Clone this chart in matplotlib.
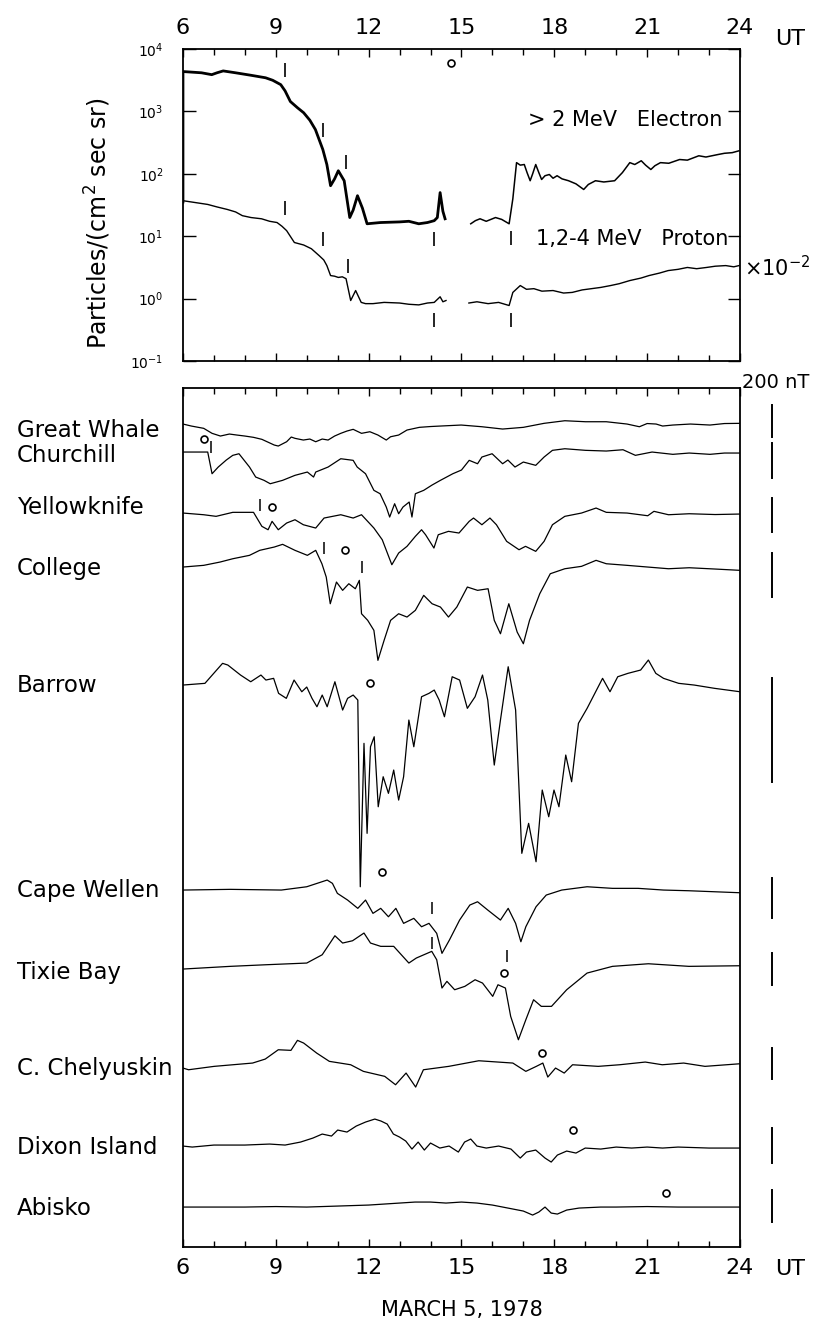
import matplotlib.pyplot as plt
from matplotlib.transforms import blended_transform_factory

plt.rcParams['font.family'] = ['DejaVu Sans']

# ---- top panel: particle fluxes, log10(particles / (cm2 sec sr)) ----
elec_hr_a = [6.0, 6.0, 6.3, 6.6, 6.93, 7.1, 7.3, 7.7, 8.2, 8.67, 8.9, 9.16, 9.3, 9.47, 9.7, 9.9,
             10.1, 10.28, 10.52, 10.65, 10.77, 10.9, 11.02, 11.21, 11.39, 11.5, 11.64, 11.8,
             11.95, 12.38, 13.0, 13.3, 13.62, 13.9, 14.12, 14.22, 14.31, 14.4, 14.47]
elec_a = [1.55, 3.64, 3.63, 3.62, 3.59, 3.62, 3.65, 3.62, 3.58, 3.54, 3.50, 3.43, 3.33, 3.16, 3.06, 2.98,
          2.86, 2.71, 2.39, 2.15, 1.81, 1.92, 2.05, 1.89, 1.30, 1.42, 1.65, 1.45,
          1.20, 1.22, 1.23, 1.24, 1.20, 1.22, 1.25, 1.30, 1.70, 1.40, 1.28]
elec_hr_b = [15.3, 15.45, 15.6, 15.8, 16.1, 16.3, 16.54, 16.66, 16.78, 16.9, 17.03, 17.12, 17.22, 17.3, 17.4,
             17.5, 17.59, 17.7, 17.84, 17.96, 18.09, 18.25, 18.46, 18.7, 18.95, 19.1, 19.33, 19.6, 19.95,
             20.2, 20.44, 20.6, 20.81, 20.95, 21.12, 21.25, 21.43, 21.7, 22.05, 22.3, 22.67, 22.9,
             23.29, 23.5, 23.75, 23.97]
elec_b = [1.20, 1.25, 1.28, 1.24, 1.30, 1.27, 1.20, 1.60, 2.18, 2.14, 2.15, 2.02, 1.89, 2.00, 2.15,
          2.02, 1.91, 1.97, 1.99, 1.93, 1.97, 1.92, 1.89, 1.84, 1.75, 1.83, 1.89, 1.87, 1.89,
          2.02, 2.18, 2.15, 2.21, 2.14, 2.07, 2.13, 2.18, 2.17, 2.23, 2.22, 2.29, 2.27,
          2.31, 2.33, 2.34, 2.37]

prot_hr_a = [6.0, 6.4, 6.8, 7.1, 7.43, 7.7, 7.92, 8.2, 8.54, 8.8, 9.04, 9.2, 9.35, 9.6, 9.9, 10.15,
             10.4, 10.55, 10.65, 10.77, 10.9, 11.02, 11.15, 11.27, 11.42, 11.58, 11.76, 11.9, 12.14,
             12.5, 13.0, 13.3, 13.62, 13.9, 14.12, 14.31, 14.4, 14.5]
prot_a = [1.57, 1.54, 1.51, 1.47, 1.43, 1.39, 1.33, 1.30, 1.28, 1.24, 1.22, 1.16, 1.09, 0.90, 0.86, 0.80,
          0.69, 0.62, 0.53, 0.37, 0.36, 0.34, 0.35, 0.32, -0.03, 0.13, -0.06, -0.08, -0.08,
          -0.06, -0.07, -0.09, -0.10, -0.07, -0.06, 0.03, -0.05, -0.03]
prot_hr_b = [15.24, 15.5, 15.86, 16.2, 16.54, 16.66, 16.9, 17.1, 17.34, 17.6, 17.96, 18.3, 18.58, 18.9,
             19.2, 19.5, 19.82, 20.1, 20.44, 20.8, 21.06, 21.4, 21.68, 22.0, 22.3, 22.6, 22.92, 23.2,
             23.54, 23.8, 23.97]
prot_b = [-0.07, -0.05, -0.08, -0.06, -0.11, 0.10, 0.21, 0.15, 0.16, 0.12, 0.13, 0.09, 0.10, 0.14,
          0.16, 0.18, 0.21, 0.24, 0.29, 0.33, 0.37, 0.41, 0.45, 0.47, 0.50, 0.48, 0.50, 0.52,
          0.53, 0.51, 0.53]

# small vertical marks and circle in top panel
top_mark_hr = [9.29, 10.52, 11.27, 9.31, 10.52, 14.1, 16.6, 11.33, 14.1, 16.6]
top_mark_log = [3.67, 2.71, 2.19, 1.46, 0.96, 0.96, 0.97, 0.53, -0.35, -0.35]
top_circle = (14.65, 3.78)

# ---- bottom panel: magnetograms (deviation from baseline, panel units; up = positive) ----
stations = ['Great Whale', 'Churchill', 'Yellowknife', 'College', 'Barrow',
            'Cape Wellen', 'Tixie Bay', 'C. Chelyuskin', 'Dixon Island', 'Abisko']
baseline = [823, 795, 734, 680, 562, 357, 278, 179, 101, 40]
label_y = [817, 792, 740, 679, 562, 357, 275, 179, 100, 39]

gw_hr = [6.0, 6.27, 6.67, 6.94, 7.21, 7.5, 7.74, 8.0, 8.28, 8.55, 8.95, 9.08, 9.35, 9.5, 9.62, 9.89,
         10.1, 10.29, 10.5, 10.69, 10.9, 11.1, 11.3, 11.5, 11.77, 12.04, 12.3, 12.57, 12.71, 12.97,
         13.24, 13.64, 14.0, 14.32, 14.99, 15.66, 16.33, 17.0, 17.67, 18.34, 19.01, 19.68, 20.35,
         20.75, 21.0, 21.29, 21.5, 21.83, 22.4, 23.03, 23.5, 24.0]
gw = [0, -2, -4.3, -9.3, -12, -10, -11, -12, -13.3, -15.3, -21, -22, -17.7, -13, -14.3, -16,
      -15, -17.7, -15, -16, -12, -9.3, -7, -5.3, -9.3, -7.7, -11, -16, -12.7, -11,
      -6, -3.3, -2.5, -2, -1, -2.7, -5, -3.3, 0.7, 3.3, 2.3, 2.3, 0,
      -2.7, 0.5, 0, -2, -1, 0, -1, 0.5, 0.7]

ch_hr = [6.0, 6.8, 6.94, 7.14, 7.4, 7.61, 7.81, 8.15, 8.35, 8.62, 8.82, 9.22, 9.62, 10.02, 10.22,
         10.29, 10.69, 11.1, 11.5, 11.63, 11.9, 12.17, 12.37, 12.57, 12.68, 12.84, 12.97, 13.11,
         13.31, 13.4, 13.51, 13.78, 14.05, 14.32, 14.72, 15.0, 15.25, 15.52, 15.66, 15.99, 16.33,
         16.5, 16.73, 17.0, 17.4, 17.67, 17.94, 18.34, 19.01, 19.68, 20.22, 20.62, 21.16, 21.83,
         22.36, 23.03, 23.5, 24.0]
ch = [0, 0, -21.7, -15, -8, -3.3, -1.7, -15, -25, -28.3, -31.7, -28.3, -23.3, -20, -25,
      -20, -15, -6.7, -8.3, -15, -21.7, -38.3, -41.7, -55, -65, -51.7, -61.7, -55,
      -50, -65, -41.7, -38.3, -33, -28.3, -21.7, -18, -8.3, -11.7, -5, -1.7, -11.7,
      -8, -15, -10, -13.3, -5, 1.7, 3.3, 1.7, 1, 2.3, -3.3, 0, -2.3,
      -1, -2.3, -1, -1]

yk_hr = [6.0, 6.67, 7.07, 7.61, 8.28, 8.55, 8.75, 8.88, 9.08, 9.35, 9.62, 9.89, 10.29, 10.56, 11.1,
         11.5, 11.77, 12.17, 12.44, 12.75, 12.97, 13.24, 13.51, 13.71, 13.84, 14.11, 14.25, 14.58,
         14.92, 15.25, 15.39, 15.66, 15.92, 16.13, 16.46, 16.86, 17.07, 17.4, 17.67, 17.94, 18.34,
         18.88, 19.35, 19.68, 20.35, 21.02, 21.22, 21.69, 22.36, 23.2, 24.0]
yk = [0, -1.7, -3.3, 0.7, 0.7, -13.3, -16.7, -8.3, -16.7, -10, -6.7, -11.7, -15, -5, -1.7,
      -5, -1.7, -15, -26.7, -51.7, -40, -33.3, -23.3, -16.7, -21.7, -35, -21.7, -18.3,
      -20, -8.3, -5, -11.7, -5, -11.7, -28.3, -36.7, -33.3, -38.3, -28.3, -11.7, -3.3,
      0, 5, 0.7, 0, -2.7, 1.7, -1.7, -0.7, -1.5, -1]

co_hr = [6.0, 6.67, 7.2, 7.61, 8.15, 8.48, 8.95, 9.22, 9.62, 10.02, 10.29, 10.49, 10.63, 10.76,
         10.96, 11.16, 11.36, 11.57, 11.7, 11.77, 11.97, 12.17, 12.3, 12.5, 12.71, 12.97, 13.24,
         13.51, 13.78, 14.05, 14.32, 14.58, 14.85, 15.19, 15.52, 15.86, 16.06, 16.26, 16.53, 16.8,
         17.0, 17.2, 17.53, 17.87, 18.34, 18.88, 19.35, 19.68, 20.35, 21.02, 21.69, 22.36, 23.2, 24.0]
co = [0, 1.7, 5, 8.3, 11.7, 16.7, 20, 22.7, 16.7, 11.7, 16.7, 3.3, -10, -36.7,
      -15, -23.3, -16.7, -21.7, -13.3, -46.7, -53.3, -63.3, -93.3, -73.3, -53.3, -46.7, -50,
      -43.3, -28.3, -36.7, -40, -50, -40, -20, -23.3, -21.7, -53.3, -66.7, -36.7, -65,
      -76.7, -53.3, -26.7, -6.7, -1.7, 0.7, 6.7, 3.3, 1.7, 0, -1.7, -0.7, -2, -3.3]

ba_hr = [6.0, 6.71, 7.04, 7.28, 7.45, 7.86, 8.19, 8.52, 8.68, 8.93, 9.09, 9.34, 9.59, 9.84, 10.0,
         10.17, 10.33, 10.5, 10.66, 10.91, 11.16, 11.32, 11.5, 11.65, 11.73, 11.85, 11.95, 12.06,
         12.18, 12.31, 12.47, 12.64, 12.81, 12.97, 13.13, 13.3, 13.46, 13.71, 13.95, 14.12, 14.28,
         14.45, 14.7, 14.94, 15.19, 15.44, 15.68, 15.85, 16.06, 16.26, 16.51, 16.75, 16.95, 17.17,
         17.41, 17.61, 17.82, 17.99, 18.15, 18.37, 18.56, 18.78, 19.06, 19.31, 19.56, 19.8, 20.05,
         20.38, 20.79, 21.04, 21.28, 21.53, 22.02, 22.52, 23.18, 24.0]
ba = [0, 1.7, 13.3, 21.7, 20, 10, 3.3, 10, 5, 6.7, -8.3, -13.3, 5, -6.7, -2,
      -13.3, -21.7, -10, -21.7, 3.3, -25, -13.3, -10, -15, -201.7, -58.3, -148.3, -61.7,
      -51.7, -121.7, -91.7, -108.3, -85, -115, -91.7, -35, -61.7, -11.7, -8.3, -5, -15,
      -31.7, 8.3, 5, -23.3, -11.7, 10, -15, -80, -35, 18.3, -25, -168.3, -138.3,
      -176.7, -105, -131.7, -105, -121.7, -70, -96.7, -38.3, -23.3, -8.3, 6.7, -6.7, 8.3,
      11.7, 15, 25, 11.7, 6.7, 1.7, 0, -3.3, -6.7]

cw_hr = [6.0, 7.53, 9.18, 10.0, 10.66, 10.83, 10.99, 11.32, 11.65, 11.9, 12.14, 12.39, 12.64, 12.88,
         13.13, 13.46, 13.71, 13.95, 14.2, 14.37, 14.61, 14.94, 15.27, 15.52, 15.85, 16.26, 16.51,
         16.75, 16.92, 17.08, 17.41, 17.74, 18.24, 19.06, 19.88, 20.71, 21.53, 22.35, 24.0]
cw = [0, 0.7, 0, 3.3, 10, 6.7, -3.3, -10, -18.3, -10, -23.3, -18.3, -26.7, -18.3,
      -33.3, -28.3, -36.7, -33.3, -43.3, -63.3, -50, -30, -15, -11.7, -20, -30, -18.3,
      -33.3, -51.7, -36.7, -16.7, -5, 0, 3.3, 1.7, 1.7, 0, -0.7, -2.7]

tx_hr = [6.0, 7.53, 8.68, 10.0, 10.5, 10.91, 11.16, 11.48, 11.85, 12.06, 12.39, 12.81, 13.3, 13.54,
         14.04, 14.2, 14.37, 14.53, 14.78, 15.11, 15.44, 15.68, 16.01, 16.18, 16.42, 16.59, 16.84,
         17.08, 17.33, 17.58, 17.91, 18.4, 19.06, 19.88, 21.04, 22.35, 24.0]
tx = [0, 2.7, 4.3, 6, 14.3, 33.3, 26, 28.3, 36, 26, 22.7, 22.7, 6, 11,
      17.7, 9.3, -19, -12.3, -20.7, -17.3, -10.7, -14, -27.3, -15.7, -19, -47.3, -70.7,
      -50.7, -30.7, -37.3, -37.3, -20.7, -4, 2.7, 5.3, 2.7, 3.3]

cc_hr = [6.0, 6.18, 7.01, 8.25, 8.66, 9.08, 9.49, 9.7, 9.9, 10.32, 10.73, 11.42, 11.83, 12.52, 12.87,
         13.21, 13.52, 13.77, 14.59, 15.56, 16.66, 17.08, 17.42, 17.63, 17.79, 18.04, 18.32, 18.59,
         19.42, 20.11, 20.94, 21.49, 22.18, 22.87, 24.0]
cc = [0, -1.7, 1.7, 5, 9, 18.3, 17.7, 27.7, 25, 15, 6.7, 3.3, -3.3, -8.3, -16.7,
      -5, -19, -1.7, 1.7, 7.3, 5, -3.3, 1.7, 5, -9, 0, -5, 3.3,
      1.7, 3.3, 6, 3.3, 5, 1.7, 4.3]

dx_hr = [6.0, 6.3, 7.0, 8.0, 8.8, 9.3, 9.8, 10.2, 10.5, 10.8, 11.0, 11.3, 11.6, 11.9, 12.2, 12.4,
         12.6, 12.8, 13.0, 13.2, 13.4, 13.6, 13.8, 14.0, 14.3, 14.6, 14.9, 15.1, 15.3, 15.5, 15.8,
         16.2, 16.6, 16.9, 17.1, 17.4, 17.7, 17.9, 18.1, 18.4, 18.7, 19.0, 19.5, 20.0, 20.5, 21.0,
         21.5, 22.0, 23.0, 24.0]
dx = [0, -1, 1, 1, 2, 1, 4, 8, 12, 10, 16, 14, 20, 24, 27, 25,
      22, 12, 9, 5, -3, 4, -4, 3, -2, 0, -6, 4, 7, 0, -2,
      0, -3, -12, -6, -4, -12, -16, -9, -5, -7, -2, -3, -1, -2, -1,
      -2, -1, -2, -2]

ab_hr = [6.0, 8.0, 9.0, 10.0, 11.0, 12.0, 12.5, 13.0, 13.5, 14.0, 14.5, 15.0, 15.5, 16.0, 16.5,
         17.0, 17.3, 17.5, 17.7, 17.9, 18.1, 18.4, 18.8, 19.5, 20.0, 21.0, 22.0, 23.0, 24.0]
ab = [0, 0, 0.5, 0, 1, 2, 3, 4, 5, 5, 4, 5, 4, 2, -1,
      -4, -8, -5, 0, -6, -7, -3, -1, 0, 0, 0.5, 0, 0, 0]

traces = [(gw_hr, gw), (ch_hr, ch), (yk_hr, yk), (co_hr, co), (ba_hr, ba),
          (cw_hr, cw), (tx_hr, tx), (cc_hr, cc), (dx_hr, dx), (ab_hr, ab)]

# 200 nT scale bars: top and bottom in panel units
bar_top = [842, 804, 749, 694, 569, 369, 294, 199, 119, 57]
bar_bot = [810, 769, 715, 650, 465, 329, 262, 168, 84, 25]

# circles and small marks on the magnetograms (hour, panel units)
circ_hr = [6.67, 8.88, 11.23, 12.06, 12.44, 16.39, 17.61, 18.6, 21.6]
circ_y = [808, 740, 697, 564, 375, 274, 194, 117, 54]
tick_hr = [6.9, 8.48, 10.56, 11.77, 14.04, 14.04, 16.47]
tick_y = [800, 742, 699, 680, 339, 304, 291]

# ---------------------------------------------------------------------
fig = plt.figure(figsize=(8.19, 13.23), dpi=100)
ax1 = fig.add_axes([0.2234, 0.7271, 0.6801, 0.2358])
ax2 = fig.add_axes([0.2234, 0.0574, 0.6801, 0.6493])

# top panel
ax1.plot(elec_hr_a, [10 ** v for v in elec_a], color='black', lw=2.0)
ax1.plot(elec_hr_b, [10 ** v for v in elec_b], color='black', lw=1.1)
ax1.plot(prot_hr_a, [10 ** v for v in prot_a], color='black', lw=1.0)
ax1.plot(prot_hr_b, [10 ** v for v in prot_b], color='black', lw=1.0)
ax1.plot(top_mark_hr, [10 ** v for v in top_mark_log], ls='none', marker='|',
         ms=10, mew=1.2, color='black')
ax1.plot(top_circle[0], 10 ** top_circle[1], ls='none', marker='o', ms=5,
         mfc='white', mec='black', mew=1.2)
ax1.set_yscale('log')
ax1.set_xlim(6, 24)
ax1.set_ylim(1e-1, 1e4)
ax1.set_yticks([1e-1, 1e0, 1e1, 1e2, 1e3, 1e4])
ax1.set_yticklabels([r'$10^{-1}$', r'$10^{0}$', r'$10^{1}$', r'$10^{2}$', r'$10^{3}$', r'$10^{4}$'],
                    fontsize=10, family='DejaVu Serif')
ax1.yaxis.set_minor_locator(plt.NullLocator())
ax1.set_xticks(range(6, 25, 3))
ax1.set_xticks(range(6, 25), minor=True)
ax1.tick_params(axis='x', which='both', direction='in', top=True, bottom=True,
                labeltop=True, labelbottom=False, labelsize=16, pad=8)
ax1.tick_params(axis='x', which='major', length=6, width=1)
ax1.tick_params(axis='x', which='minor', length=4, width=1)
ax1.tick_params(axis='y', direction='in', left=True, right=True, length=9, width=1, pad=14)
ax1.text(17.15, 10 ** 2.87, '> 2 MeV   Electron', fontsize=15, va='center')
ax1.text(17.4, 10 ** 0.96, '1,2-4 MeV   Proton', fontsize=15, va='center')
ax1.text(1.008, 0.30, r'$\times 10^{-2}$', transform=ax1.transAxes, fontsize=15, va='center')
ax1.text(1.09, 1.0, 'UT', transform=ax1.transAxes, fontsize=16, va='bottom', ha='center')
ax1.set_ylabel(r'Particles/(cm$^2$ sec sr)', fontsize=17)
ax1.yaxis.set_label_coords(-0.125, 0.44)

# bottom panel
for (hr, dev), base in zip(traces, baseline):
    ax2.plot(hr, [base + d for d in dev], color='black', lw=0.9)

tr = blended_transform_factory(ax2.transAxes, ax2.transData)
for name, ly in zip(stations, label_y):
    ax2.text(-0.298, ly, name, transform=tr, fontsize=16.5, va='center', ha='left')
for t, b in zip(bar_top, bar_bot):
    ax2.plot([1.0575, 1.0575], [b, t], transform=tr, color='black', lw=1.4, clip_on=False)
ax2.text(1.004, 1.006, '200 nT', transform=ax2.transAxes, fontsize=14, va='center', ha='left')

ax2.plot(circ_hr, circ_y, ls='none', marker='o', ms=5, mfc='white', mec='black', mew=1.2)
ax2.plot(tick_hr, tick_y, ls='none', marker='|', ms=9, mew=1.1, color='black')

ax2.set_xlim(6, 24)
ax2.set_ylim(0, 859)
ax2.set_yticks([])
ax2.set_xticks(range(6, 25, 3))
ax2.set_xticks(range(6, 25), minor=True)
ax2.tick_params(axis='x', which='both', direction='in', top=True, bottom=True,
                labelsize=16, pad=8)
ax2.tick_params(axis='x', which='major', length=6, width=1)
ax2.tick_params(axis='x', which='minor', length=4, width=1)
ax2.text(1.09, -0.026, 'UT', transform=ax2.transAxes, fontsize=16, va='center', ha='center')
ax2.set_xlabel('MARCH 5, 1978', fontsize=15, labelpad=16)

for ax in (ax1, ax2):
    for s in ax.spines.values():
        s.set_linewidth(1.3)

fig.savefig('out.png', dpi=100, facecolor='white')
